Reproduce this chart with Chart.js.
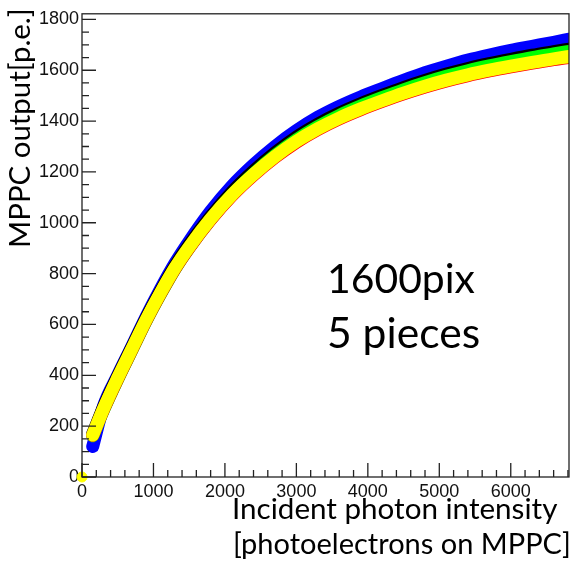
<!DOCTYPE html>
<html>
<head>
<meta charset="utf-8">
<script src="https://cdn.jsdelivr.net/npm/chart.js@4"></script>
<style>
  html, body { margin: 0; padding: 0; background: #fff; }
  #wrap { width: 575px; height: 564px; }
</style>
</head>
<body>
<div id="wrap"><canvas id="mppc-chart" width="575" height="564"></canvas></div>
<script>
// Incident photon intensity (x) where the curves were read
const xValues = [150, 300, 500, 700, 900, 1100, 1300, 1500, 1800, 2100, 2400, 2700, 3000,
                 3300, 3600, 3900, 4200, 4500, 4800, 5100, 5400, 5700, 6000, 6300, 6600, 6820];

// MPPC output [p.e.] for the 5 pieces
const blueY   = [120, 278, 400, 515, 632, 740, 840, 927, 1045, 1145, 1228, 1300, 1362,
                 1415, 1458, 1495, 1528, 1560, 1590, 1616, 1640, 1660, 1678, 1694, 1710, 1722];
const blackY  = [170, 274, 396, 511, 626, 731, 829, 913, 1024, 1121, 1203, 1275, 1337,
                 1388, 1431, 1468, 1501, 1532, 1560, 1585, 1607, 1626, 1643, 1659, 1673, 1683];
const greenY  = [162, 263, 385, 500, 615, 720, 818, 902, 1013, 1110, 1192, 1264, 1326,
                 1378, 1422, 1459, 1492, 1523, 1551, 1576, 1598, 1617, 1634, 1650, 1664, 1674];
const redY    = [164, 265, 387, 502, 617, 722, 819, 902, 1012, 1107, 1187, 1257, 1317,
                 1367, 1409, 1445, 1477, 1507, 1534, 1558, 1579, 1597, 1613, 1628, 1642, 1651];
const yellowY = [165, 268, 390, 505, 620, 725, 822, 905, 1015, 1110, 1190, 1260, 1320,
                 1370, 1412, 1448, 1480, 1510, 1537, 1561, 1582, 1600, 1616, 1631, 1645, 1654];

// lone point at the origin
const originX = [0];
const originY = [0];

// axis ticks
const xTickValues = [0, 1000, 2000, 3000, 4000, 5000, 6000];
const yTickValues = [0, 200, 400, 600, 800, 1000, 1200, 1400, 1600, 1800];
const xMinorStep = 200;
const yMinorStep = 50;
const xMax = 6815;
const yMax = 1822;

function toPoints(xs, ys) {
    return xs.map((x, i) => ({ x: x, y: ys[i] }));
}

function band(label, ys, color) {
    return {
        label: label,
        data: toPoints(xValues, ys),
        borderColor: color,
        backgroundColor: color,
        borderWidth: 13,
        borderCapStyle: 'round',
        borderJoinStyle: 'round',
        pointRadius: 0,
        showLine: true,
        cubicInterpolationMode: 'monotone'
    };
}

// ROOT style frame with ticks on the inside, plus the free texts
const framePlugin = {
    id: 'frame',
    afterDraw(chart) {
        const ctx = chart.ctx;
        const a = chart.chartArea;
        const xs = chart.scales.x;
        const ys = chart.scales.y;
        ctx.save();
        ctx.strokeStyle = '#222';
        ctx.lineWidth = 1.3;
        ctx.strokeRect(a.left, a.top, a.right - a.left, a.bottom - a.top);

        ctx.beginPath();
        for (let v = 0; v <= xMax; v += xMinorStep) {
            const px = xs.getPixelForValue(v);
            const len = v % 1000 === 0 ? 14 : 7;
            ctx.moveTo(px, a.bottom);
            ctx.lineTo(px, a.bottom - len);
        }
        for (let v = 0; v <= yMax; v += yMinorStep) {
            const py = ys.getPixelForValue(v);
            const len = v % 200 === 0 ? 14 : 7;
            ctx.moveTo(a.left, py);
            ctx.lineTo(a.left + len, py);
        }
        ctx.stroke();

        // texts (Calibri-like), sized to the widths seen in the picture
        const fam = 'Lato, "Open Sans", sans-serif';
        function fit(text, width) {
            ctx.font = '100px ' + fam;
            const w = ctx.measureText(text).width;
            return (100 * width / w).toFixed(1) + 'px ' + fam;
        }
        ctx.fillStyle = '#000';
        ctx.textBaseline = 'alphabetic';
        ctx.textAlign = 'left';

        ctx.font = fit('1600pix', 148);
        ctx.fillText('1600pix', 327, 293);
        ctx.font = fit('5 pieces', 153);
        ctx.fillText('5 pieces', 327, 348);

        ctx.font = fit('Incident photon intensity', 325);
        ctx.fillText('Incident photon intensity', 232, 519);
        ctx.font = fit('[photoelectrons on MPPC]', 338);
        ctx.fillText('[photoelectrons on MPPC]', 233, 554);

        ctx.translate(30, 248);
        ctx.rotate(-Math.PI / 2);
        ctx.font = fit('MPPC output[p.e.]', 240);
        ctx.fillText('MPPC output[p.e.]', 0, 0);
        ctx.restore();
    }
};

const ctx = document.getElementById('mppc-chart').getContext('2d');
new Chart(ctx, {
    type: 'scatter',
    data: {
        datasets: [
            {
                label: 'origin',
                data: toPoints(originX, originY),
                backgroundColor: '#ffff00',
                borderColor: '#ffff00',
                pointRadius: 5,
                clip: false
            },
            band('yellow', yellowY, '#ffff00'),
            band('red', redY, '#ff0000'),
            band('green', greenY, '#00ff00'),
            band('black', blackY, '#000000'),
            band('blue', blueY, '#0000ff')
        ]
    },
    options: {
        responsive: false,
        animation: false,
        layout: { padding: { top: 10, right: 2, left: 0, bottom: 0 } },
        plugins: {
            legend: { display: false },
            tooltip: { enabled: false }
        },
        scales: {
            x: {
                type: 'linear',
                min: 0,
                max: xMax,
                grid: { display: false, drawTicks: false },
                border: { display: false },
                afterBuildTicks: scale => { scale.ticks = xTickValues.map(v => ({ value: v })); },
                afterFit: scale => { scale.height = 87; },
                ticks: {
                    padding: 4,
                    maxRotation: 0,
                    color: '#111',
                    callback: v => String(v),
                    font: { family: '"Liberation Sans", Arial, sans-serif', size: 18 }
                }
            },
            y: {
                type: 'linear',
                min: 0,
                max: yMax,
                grid: { display: false, drawTicks: false },
                border: { display: false },
                afterBuildTicks: scale => { scale.ticks = yTickValues.map(v => ({ value: v })); },
                afterFit: scale => { scale.width = 82; },
                ticks: {
                    padding: 3,
                    color: '#111',
                    callback: v => String(v),
                    font: { family: '"Liberation Sans", Arial, sans-serif', size: 18 }
                }
            }
        }
    },
    plugins: [framePlugin]
});
</script>
</body>
</html>
